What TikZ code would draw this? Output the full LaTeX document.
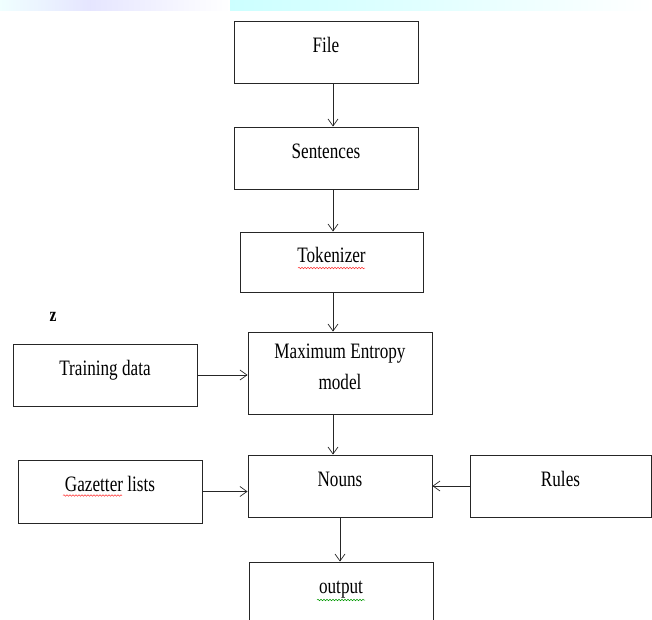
\documentclass[tikz,border=0pt]{standalone}
\usepackage{fontspec}
\setmainfont{Liberation Serif}
\newfontfamily\boxfont{Liberation Serif}[FakeStretch=0.78]
\usetikzlibrary{arrows.meta, calc, decorations.pathmorphing}

\begin{document}
\begin{tikzpicture}[
  x=1pt, y=-1pt,
  every node/.style={font=\boxfont\fontsize{22}{31}\selectfont},
  frame/.style={
    rectangle, draw=black!85, line width=0.9pt,
    minimum width=184pt, minimum height=62pt,
    inner sep=0pt, align=center,
  },
  block/.style={frame, text height=16pt, text depth=16pt},
  flow/.style={-{Straight Barb[length=7pt, width=10pt]}, line width=0.7pt, draw=black!85},
  squiggle/.style={decorate, decoration={snake, amplitude=0.8pt, segment length=3pt}, line width=0.5pt},
]
  \useasboundingbox (0,0) rectangle (652,619);

  % blurred strip of the page behind the figure
  \shade[left color=cyan!6, right color=blue!10] (0,0) rectangle (90,10);
  \shade[left color=blue!10, right color=white] (90,0) rectangle (230,10);
  \shade[left color=cyan!20, right color=cyan!12] (230,0) rectangle (420,10);
  \shade[left color=cyan!12, right color=white] (420,0) rectangle (652,10);

  \node[block] (file) at (326,52) {File};
  \node[block] (sentences) at (326,158) {Sentences};
  \node[block, minimum width=183pt, minimum height=60pt] (tokenizer) at (331.5,262) {Tokenizer};
  \node[frame, minimum height=82pt] (maxent) at (340,373) {Maximum Entropy\\model\rule[-12pt]{0pt}{0pt}};
  \node[block] (training) at (105,375) {Training data};
  \node[block] (nouns) at (340,486) {Nouns};
  \node[block, minimum height=63pt] (gazetter) at (110,491.5) {Gazetter lists};
  \node[block, minimum width=181pt] (rules) at (560.5,486) {Rules};
  \node[block] (output) at (341,593) {output};
  \node[font=\boxfont\bfseries\fontsize{20}{22}\selectfont] (zmark) at (53,317) {z};

  \coordinate (spine) at (333,0);
  \draw[flow] (file.south -| spine) -- (sentences.north -| spine);
  \draw[flow] (sentences.south -| spine) -- (tokenizer.north -| spine);
  \draw[flow] (tokenizer.south -| spine) -- (maxent.north -| spine);
  \draw[flow] (maxent.south -| spine) -- (nouns.north -| spine);
  \draw[flow] (nouns.south) -- (nouns.south |- output.north);
  \draw[flow] (training.east) -- (training.east -| maxent.west);
  \draw[flow] (gazetter.east) -- (gazetter.east -| nouns.west);
  \draw[flow] (rules.west) -- (rules.west -| nouns.east);

  % spell-check marks under words
  \draw[squiggle, red!80] ($(tokenizer.center)+(-33.5,6)$) -- ($(tokenizer.center)+(33.5,6)$);
  \draw[squiggle, red!80] ($(gazetter.center)+(-47,4)$) -- ($(gazetter.center)+(12,4)$);
  \draw[squiggle, green!60!black] ($(output.center)+(-24,7)$) -- ($(output.center)+(24,7)$);
\end{tikzpicture}
\end{document}
